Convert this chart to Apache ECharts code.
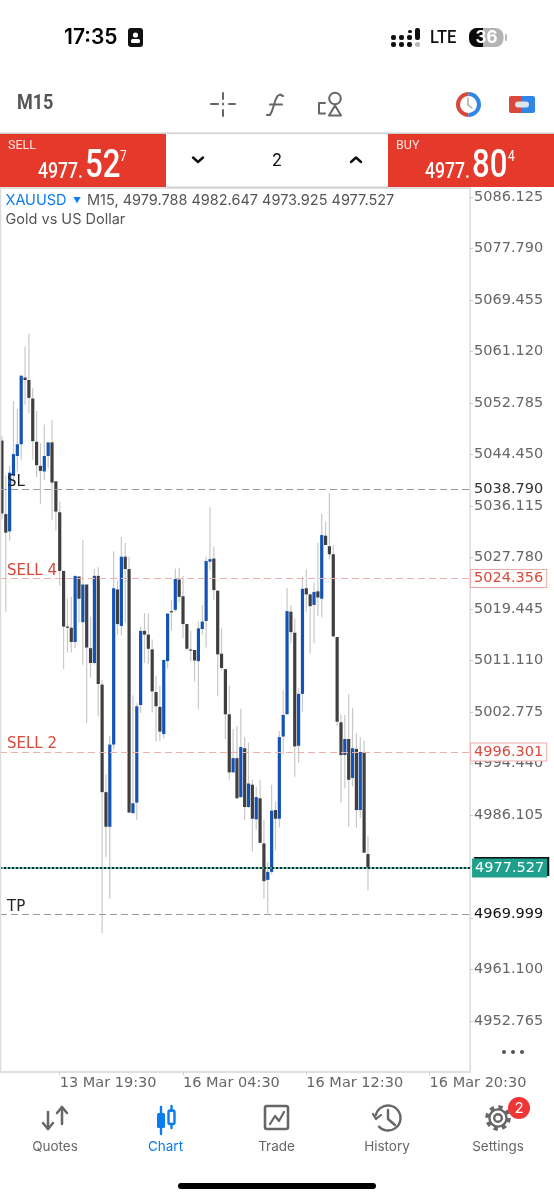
<!DOCTYPE html>
<html>
<head>
<meta charset="utf-8" />
<title>XAUUSD M15</title>
<style>
html, body { margin: 0; padding: 0; background: #fff; }
#chart { width: 554px; height: 1200px; }
</style>
</head>
<body>
<div id="chart"></div>
<script src="https://cdn.jsdelivr.net/npm/echarts@6/dist/echarts.min.js"></script>
<script>
// OHLC, oldest first
var opens = [5046.7,5034.8,5032.0,5041.1,5044.2,5046.1,5056.9,5056.5,5053.5,5046.5,5042.6,5041.7,5044.2,5046.4,5040.1,5035.1,
  5025.6,5016.6,5016.4,5014.1,5024.7,5017.3,5023.4,5013.1,5010.7,5024.8,5007.2,4989.8,4984.2,4997.5,5022.6,5016.7,
  5027.9,5025.9,4986.4,4988.1,5003.9,5015.9,5015.3,5012.9,5006.0,5003.6,4999.2,5011.0,5019.1,5019.3,5024.2,5021.5,
  5017.0,5012.9,5012.8,5011.0,5016.2,5017.5,5027.1,5027.6,5022.4,5012.2,5009.7,5002.4,4993.0,4995.3,4989.0,4996.9,
  4987.4,4991.0,4985.4,4988.8,4981.5,4975.6,4976.9,4986.9,4985.5,4998.8,5002.4,5019.0,5015.6,4997.3,5005.7,5022.8,
  5021.8,5020.1,5022.3,5021.1,5031.3,5029.6,5028.3,5014.9,5001.1,4995.8,4998.4,4992.1,4996.8,4986.9,4996.3,4979.788];
var closes = [5034.9,5031.8,5041.5,5044.5,5046.1,5057.2,5056.5,5053.6,5046.6,5042.7,5041.8,5044.2,5046.4,5039.9,5035.2,5025.6,
  5016.6,5016.4,5014.1,5024.8,5021.1,5023.4,5013.2,5010.7,5024.8,5007.3,4989.8,4984.2,4997.5,5022.8,5017.0,5027.9,
  5025.9,4986.5,4988.0,5003.7,5015.9,5015.3,5013.0,5006.1,5003.7,4999.6,5011.2,5018.7,5018.9,5024.3,5021.4,5017.0,
  5013.0,5012.8,5011.1,5016.3,5017.4,5027.2,5027.5,5022.5,5012.1,5009.9,5002.4,4993.0,4995.3,4988.8,4997.1,4987.4,
  4991.2,4985.5,4989.0,4981.6,4975.4,4976.9,4986.8,4985.5,4998.7,5002.3,5019.1,5015.7,4997.2,5005.7,5022.7,5021.8,
  5019.9,5022.2,5021.3,5031.4,5029.8,5028.3,5015.0,5001.2,4995.8,4998.4,4991.8,4996.9,4986.9,4996.3,4980.0,4977.527];
var lows = [5034.0,5019.0,5030.5,5039.8,5041.7,5043.6,5052.5,5051.1,5043.6,5040.8,5036.4,5040.3,5042.2,5033.8,5032.1,5023.2,
  5009.7,5012.4,5012.4,5013.1,5017.2,5010.4,5001.0,5008.4,5010.4,5002.1,4967.0,4979.3,4972.5,4996.7,5015.2,5015.2,
  5017.2,4986.4,4986.3,4985.3,5002.6,5010.7,5010.5,5002.7,4998.0,4998.1,4998.5,5009.8,5016.0,5019.0,5020.5,5014.7,
  5012.7,5010.9,5007.7,5003.2,5015.3,5013.2,5025.7,5020.9,5005.4,5009.5,4998.4,4991.8,4993.0,4988.8,4988.9,4985.3,
  4987.2,4980.2,4983.7,4981.6,4972.5,4970.2,4976.5,4980.4,4984.1,4995.8,5002.4,5013.9,4992.3,4994.5,5002.8,5019.0,
  5012.2,5013.9,5018.3,5018.1,5029.8,5027.5,5015.0,5000.5,4988.1,4990.4,4984.2,4990.7,4984.0,4985.6,4980.0,4973.925];
var highs = [5047.5,5041.1,5042.6,5053.1,5051.8,5057.2,5061.9,5064.0,5055.2,5051.5,5046.3,5049.3,5046.4,5050.0,5040.1,5036.8,
  5025.6,5021.2,5021.4,5024.8,5024.7,5030.6,5023.4,5018.2,5025.9,5026.2,5008.0,4992.7,4998.9,5028.8,5024.0,5031.1,
  5030.1,5027.9,5005.5,5004.2,5016.6,5018.8,5018.7,5014.5,5008.6,5007.0,5011.2,5018.7,5020.9,5026.0,5026.1,5024.8,
  5017.0,5015.9,5012.8,5017.4,5020.1,5027.9,5035.9,5029.5,5022.4,5016.3,5009.7,5007.1,5000.0,5000.5,5003.3,4998.7,
  4997.8,4991.8,4990.7,4991.8,4985.3,4978.5,4991.0,4988.3,4999.7,5006.3,5022.8,5020.1,5017.9,5006.6,5024.7,5025.8,
  5022.0,5023.7,5030.1,5034.8,5033.6,5038.2,5029.8,5014.9,5002.4,5002.3,5005.7,5003.4,4999.3,4998.7,4998.1,4982.647];

var tickLabels = ['5086.125','5077.790','5069.455','5061.120','5052.785','5044.450','5036.115','5027.780','5019.445',
  '5011.110','5002.775','4994.440','4986.105','4977.770','4969.435','4961.100','4952.765'];
var timeIndex = [15, 47, 79, 111];
var timeLabels = ['13 Mar 19:30', '16 Mar 04:30', '16 Mar 12:30', '16 Mar 20:30'];
var lastPrice = 4977.527;

var categories = [];
for (var i = 0; i < 122; i++) {
  var t = timeIndex.indexOf(i);
  categories.push(t >= 0 ? timeLabels[t] : 'c' + i);
}
var candles = opens.map(function (o, i) { return [i, o, closes[i], lows[i], highs[i]]; });

var FONT = 'Inter';
var AXIS_FONT = 'DejaVu Sans';
var GREY = '#666';
var BLUE = '#0a7cf0';
var RED = '#e5392b';

function txt(x, y, text, size, color, opt) {
  opt = opt || {};
  return { type: 'text', x: x, y: y, scaleX: opt.sx || 1, silent: true, z: 20, style: {
    text: text, fontFamily: opt.font || FONT, fontSize: size, fontWeight: opt.w || 400, fill: color,
    align: opt.align || 'left', verticalAlign: 'middle' } };
}
function box(x, y, w, h, fill, r) {
  return { type: 'rect', silent: true, z: 15, shape: { x: x, y: y, width: w, height: h, r: r || 0 }, style: { fill: fill } };
}
// icon strokes, each argument is one run of x,y pairs
function stroke(color, lw, runs) {
  return {
    type: 'group', silent: true,
    children: runs.map(function (run) {
      var pts = [];
      for (var k = 0; k < run.length; k += 2) pts.push([run[k], run[k + 1]]);
      return { type: 'polyline', silent: true, z: 15, shape: { points: pts }, style: { fill: 'none', stroke: color, lineWidth: lw, lineCap: 'round', lineJoin: 'round' } };
    })
  };
}
function ring(cx, cy, r, color, lw, dash) {
  return { type: 'circle', silent: true, z: 15, shape: { cx: cx, cy: cy, r: r }, style: { fill: 'none', stroke: color, lineWidth: lw, lineDash: dash || null } };
}
function arc(cx, cy, r, a, b, color, lw) {
  return { type: 'arc', silent: true, z: 15, shape: { cx: cx, cy: cy, r: r, startAngle: a, endAngle: b }, style: { fill: 'none', stroke: color, lineWidth: lw } };
}
function dot(cx, cy, r, fill) {
  return { type: 'circle', silent: true, z: 16, shape: { cx: cx, cy: cy, r: r }, style: { fill: fill } };
}

var chrome = [
  // status bar
  txt(64, 38, '17:35', 21, '#000', { w: 600 }),
  box(128, 28, 15, 19, '#111', 3),
  dot(135.5, 35, 2.6, '#fff'),
  Object.assign(box(131, 39, 9, 4, '#fff', 1.5), { z: 16 }),
  box(391, 42, 5, 5, '#111', 2), box(391, 35, 5, 5, '#111', 2),
  box(399, 42, 5, 5, '#111', 2), box(399, 35, 5, 5, '#111', 2),
  box(407, 42, 5, 5, '#111', 2), box(407, 35, 5, 5, '#111', 2), box(408, 30, 4, 3, '#111', 1.5),
  box(415, 42, 5, 5, '#bbb', 2), box(415, 28, 5, 12, '#111', 2),
  txt(430, 38, 'LTE', 18, '#111', { font: 'Roboto', w: 500, sx: 0.92 }),
  box(469, 28, 34.5, 19, '#b4b4b4', 8),
  box(469, 28, 22, 19, '#0b0b0b', 8),
  box(483, 28, 12, 19, '#b4b4b4'),
  box(505, 34, 2, 7, '#bbb', 1),
  txt(486.5, 38, '36', 17, '#fff', { w: 700, align: 'center' }),

  // toolbar
  txt(17, 104, 'M15', 20, '#555', { font: 'Roboto', w: 700, sx: 0.9 }),
  stroke(GREY, 2, [[211, 104, 218, 104], [229, 104, 235, 104], [223, 93, 223, 99], [223, 110, 223, 116], [223, 103.5, 223, 104.5]]),
  stroke(GREY, 2, [[283, 96, 280, 94.5, 277.5, 96, 275.5, 100, 272, 111, 270, 115, 267, 115], [270, 104.5, 282, 104.5]]),
  stroke(GREY, 2, [[325, 103, 319, 103, 319, 113.5, 325, 113.5], [335, 105.5, 329, 115.5, 341, 115.5, 335, 105.5]]),
  ring(335, 98.5, 5.8, GREY, 2),
  arc(468.5, 104.5, 10.5, Math.PI / 2, Math.PI * 1.5, '#d9483b', 4),
  arc(468.5, 104.5, 10.5, -Math.PI / 2, Math.PI / 2, '#2f86e8', 4),
  stroke('#aaa', 1.5, [[468, 98, 468, 105, 472, 108]]),
  box(509, 96, 15, 17, '#d9483b', 2),
  box(521, 96, 14, 17, '#2f86e8', 2),
  box(515, 101.5, 14, 6, '#dfe3ea', 3),

  // order panel
  box(0, 132.5, 554, 1.5, '#d0d0d0'),
  box(0, 134, 166, 53, RED),
  box(388, 134, 166, 53, RED),
  box(166, 186.5, 222, 1.5, '#d0d0d0'),
  txt(8, 146, 'SELL', 12.5, '#ffe3df', { font: 'Roboto' }),
  txt(38, 172, '4977.', 22, '#fff', { font: 'Roboto', w: 500, sx: 0.8 }),
  txt(85, 167, '52', 39, '#fff', { font: 'Roboto', w: 500, sx: 0.8 }),
  txt(120, 157, '7', 15, '#fff', { font: 'Roboto', sx: 0.8 }),
  txt(396, 146, 'BUY', 12.5, '#ffe3df', { font: 'Roboto' }),
  txt(425, 172, '4977.', 22, '#fff', { font: 'Roboto', w: 500, sx: 0.8 }),
  txt(472, 167, '80', 39, '#fff', { font: 'Roboto', w: 500, sx: 0.8 }),
  txt(508, 157, '4', 15, '#fff', { font: 'Roboto', sx: 0.8 }),
  stroke('#111', 2.4, [[193, 157.5, 198, 162, 203, 157.5]]),
  txt(277, 161, '2', 17, '#111', { align: 'center' }),
  stroke('#111', 2.4, [[351, 162, 356, 157.5, 361, 162]]),

  // symbol caption
  txt(5.5, 201, 'XAUUSD', 14.5, BLUE),
  txt(73, 201, '▼', 8, BLUE),
  txt(87, 201, 'M15, 4979.788 4982.647 4973.925 4977.527', 14.5, '#555'),
  txt(5.5, 220, 'Gold vs US Dollar', 14.5, '#555'),
  box(0, 188, 1.3, 884, '#dcdcdc'),
  dot(504, 1052, 2, '#555'), dot(513, 1052, 2, '#555'), dot(522, 1052, 2, '#555'),

  // tab bar
  stroke(GREY, 2.5, [[48, 1112, 48, 1129], [43, 1123, 48, 1129, 53, 1123], [62, 1124, 62, 1107], [57, 1113, 62, 1107, 67, 1113]]),
  box(157, 1113, 8, 15, BLUE, 1.5),
  stroke(BLUE, 2.4, [[161, 1107, 161, 1134], [171.5, 1106, 171.5, 1111], [171.5, 1124, 171.5, 1128]]),
  { type: 'rect', silent: true, z: 15, shape: { x: 168.5, y: 1110.5, width: 6, height: 13.5, r: 1.5 }, style: { fill: 'none', stroke: BLUE, lineWidth: 2.4 } },
  { type: 'rect', silent: true, z: 15, shape: { x: 265, y: 1106, width: 23, height: 23, r: 2 }, style: { fill: 'none', stroke: GREY, lineWidth: 2.6 } },
  stroke(GREY, 2.2, [[270, 1124, 275, 1116, 279, 1121, 284, 1112]]),
  arc(388, 1118, 12.5, -Math.PI * 0.95, Math.PI * 0.78, GREY, 2.4),
  stroke(GREY, 2.2, [[373, 1114, 376, 1119, 381, 1115]]),
  stroke(GREY, 2.4, [[388, 1110, 388, 1119, 395, 1125]]),
  ring(498, 1118, 3.8, GREY, 2.4),
  ring(498, 1118, 8.6, GREY, 2.4),
  ring(498, 1118, 11, GREY, 3.6, [4.3, 4.34]),
  dot(519, 1108, 11, '#f03535'),
  txt(519, 1108, '2', 15, '#fff', { align: 'center' }),
  txt(55, 1147, 'Quotes', 13.5, GREY, { align: 'center' }),
  txt(165.5, 1147, 'Chart', 13.5, BLUE, { align: 'center' }),
  txt(276.5, 1147, 'Trade', 13.5, GREY, { align: 'center' }),
  txt(387, 1147, 'History', 13.5, GREY, { align: 'center' }),
  txt(498, 1147, 'Settings', 13.5, GREY, { align: 'center' }),
  box(178, 1183, 198, 6, '#000', 3)
];

function dashed(value, color, tag) {
  return { yAxis: value, lineStyle: { color: color, type: [7, 4], width: 1 }, label: tag };
}
// the word on the left of a level line, the line itself stays invisible
function word(value, text, color) {
  return { yAxis: value, lineStyle: { color: 'rgba(0,0,0,0)', width: 0 }, label: {
    show: true, formatter: text, position: 'insideStartTop', distance: [7, 0],
    color: color, fontFamily: AXIS_FONT, fontSize: 15 } };
}
function plainTag(text, color) {
  return { show: true, formatter: text, position: 'end', distance: 4, color: color, fontFamily: AXIS_FONT, fontSize: 14.5, backgroundColor: '#fff', padding: [1, 0] };
}
function boxTag(text) {
  return { show: true, formatter: text, position: 'end', distance: 1, color: '#d9483b', fontFamily: AXIS_FONT, fontSize: 14.5,
    backgroundColor: '#fff', borderColor: '#eea9a4', borderWidth: 1, padding: [1, 3] };
}

var option = {
  animation: false,
  backgroundColor: '#fff',
  grid: { left: -1.935, top: 188, width: 472, height: 884, show: true, borderColor: '#d6d6d6', borderWidth: 1.3, backgroundColor: '#fff' },
  xAxis: {
    type: 'category',
    data: categories,
    axisLine: { show: false },
    axisTick: {
      show: true, alignWithLabel: true, length: 3, lineStyle: { color: '#ccc' },
      interval: function (i) { return timeIndex.indexOf(i) >= 0; }
    },
    axisLabel: {
      interval: function (i) { return timeIndex.indexOf(i) >= 0; },
      align: 'left', margin: 4,
      color: GREY, fontFamily: AXIS_FONT, fontSize: 14.5
    },
    splitLine: { show: false }
  },
  yAxis: {
    type: 'value',
    position: 'right',
    scale: true,
    min: 4944.51,
    max: 5087.57,
    axisLine: { show: false },
    axisTick: { show: true, length: 3, lineStyle: { color: '#ccc' }, customValues: tickLabels.map(Number) },
    axisLabel: {
      customValues: tickLabels.map(Number),
      formatter: function (v) { return v.toFixed(3); },
      margin: 4, color: GREY, fontFamily: AXIS_FONT, fontSize: 14.5
    },
    splitLine: { show: false }
  },
  series: [{
    type: 'custom',
    data: candles,
    encode: { x: 0, y: [1, 2, 3, 4] },
    clip: true,
    renderItem: function (params, api) {
      var x = api.coord([api.value(0), api.value(1)])[0];
      var o = api.coord([api.value(0), api.value(1)])[1];
      var c = api.coord([api.value(0), api.value(2)])[1];
      var l = api.coord([api.value(0), api.value(3)])[1];
      var h = api.coord([api.value(0), api.value(4)])[1];
      var up = api.value(2) >= api.value(1);
      return {
        type: 'group',
        children: [
          { type: 'line', shape: { x1: x, y1: h, x2: x, y2: l }, style: { stroke: '#c8c8c8', lineWidth: 1.2 } },
          { type: 'rect', shape: { x: x - 1.6, y: Math.min(o, c), width: 3.2, height: Math.max(Math.abs(o - c), 1.2) },
            style: { fill: up ? '#1552b5' : '#3f3f3f' } }
        ]
      };
    },
    markLine: {
      silent: true,
      symbol: 'none',
      precision: 3,
      animation: false,
      data: [
        dashed(5038.790, '#9a9a9a', plainTag('5038.790', '#333')),
        word(5038.790, 'SL', '#222'),
        dashed(5024.356, '#eeb0ac', boxTag('5024.356')),
        word(5024.356, 'SELL 4', '#d9483b'),
        dashed(4996.301, '#eeb0ac', boxTag('4996.301')),
        word(4996.301, 'SELL 2', '#d9483b'),
        dashed(4969.999, '#9a9a9a', plainTag('4969.999', '#111')),
        word(4969.999, 'TP', '#222'),
        { yAxis: lastPrice, lineStyle: { color: '#3fae9c', type: 'solid', width: 1.5 }, label: { show: false } },
        { yAxis: lastPrice, lineStyle: { color: '#10302c', type: [2, 2], width: 2 }, label: {
          show: true, formatter: '4977.527', position: 'end', distance: 2, color: '#fff', fontFamily: AXIS_FONT, fontSize: 14.5,
          backgroundColor: '#1fa08c', padding: [2, 3],
          shadowColor: '#111', shadowBlur: 0, shadowOffsetX: 2, shadowOffsetY: -1.5 } }
      ]
    }
  }],
  graphic: chrome
};

var myChart = echarts.init(document.getElementById('chart'));
myChart.setOption(option);
</script>
</body>
</html>
